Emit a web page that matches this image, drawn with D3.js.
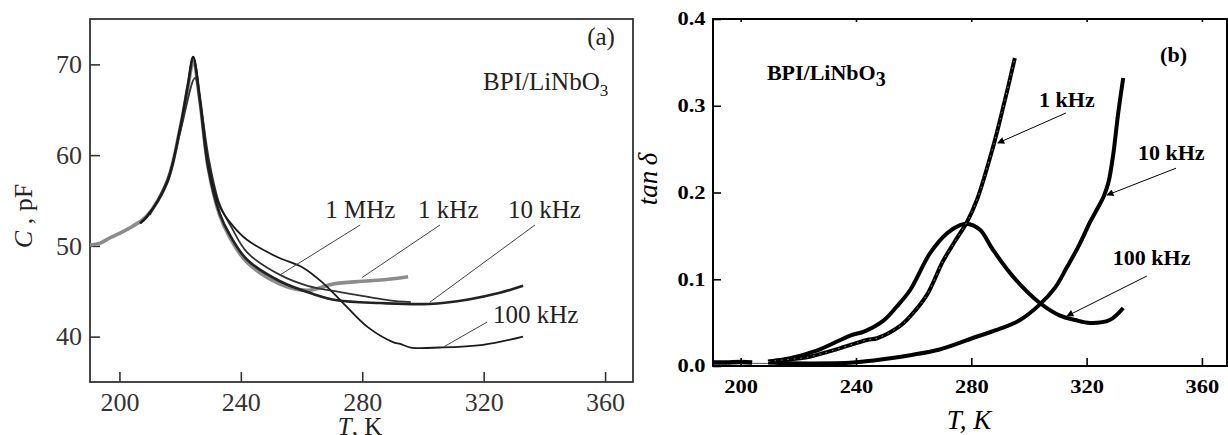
<!DOCTYPE html>
<html>
<head>
<meta charset="utf-8">
<script src="https://cdn.jsdelivr.net/npm/d3@7/dist/d3.min.js"></script>
<style>
  body { margin: 0; background: #fff; }
  svg { display: block; }
  .serif { font-family: "Liberation Serif", "DejaVu Serif", serif; }
</style>
</head>
<body>
<svg id="chart" width="1228" height="435"></svg>
<script>
// ---- data ----
// panel (a): capacitance C (pF) vs T (K)
var c1kHz = [[190.3,50.1],[193.6,50.3],[197,50.9],[201.3,51.6],[204.5,52.2],[209,53.3],[215.6,57],[219.9,62.8],[222.6,67.6],[224.3,70.3],
  [226.5,66],[229.3,58.5],[233,53.4],[236.4,50.9],[242,48.2],[252.9,45.8],[262,45.1],[270.4,45.8],[280,46.1],[288,46.3],[295.1,46.6]];
var c1MHz = [[210,53.4],[216,57.5],[220,62.5],[224.9,68.5],[227,65],[229.5,59.5],[233,54.6],[237,52],[242,49.3],[252.9,46.8],
  [262,45.6],[272.7,44.9],[281.5,44.4],[289,44],[296,43.8]];
var c10kHz = [[206.8,52.5],[209,53.2],[215.6,56.9],[219.9,62.8],[222.6,67.8],[224.3,70.8],[226.5,66],[229.3,58.5],[233.1,53.5],[236.4,51.2],
  [242,48.5],[252.9,46.1],[263.8,44.7],[271.7,44.0],[285.9,43.7],[302,43.6],[315,44.1],[325,44.8],[333,45.6]];
var c100kHz = [[206.8,52.5],[209,53.2],[215.6,56.9],[219.9,62.8],[222.6,67.8],[224.3,70.8],[226.5,66.4],[229.3,59.1],[233.1,54.3],[237.4,52.2],
  [241.9,50.7],[251.8,48.8],[260.5,47.6],[267.1,45.9],[273.7,43.7],[281.6,41.1],[290.1,39.4],[292.5,39.2],[296,38.8],[305.6,38.8],
  [319.8,39.1],[333,40.0]];

// panel (b): tan delta vs T (K)
var tBase = [[190.4,0.004],[195,0.004],[200,0.0045],[204,0.004]];
var t1kHz = [[209.5,0.005],[214.7,0.007],[223,0.010],[232,0.018],[243.8,0.030],[247.3,0.032],[255.2,0.046],[259,0.058],[264.6,0.082],
  [270.2,0.121],[274,0.142],[278.5,0.166],[282,0.192],[287.5,0.252],[290,0.284],[292.5,0.318],[295.1,0.355]];
var t10kHz = [[209.5,0.004],[224,0.003],[239,0.004],[250,0.008],[258.8,0.0125],[269,0.019],[282,0.034],[290,0.043],[296.9,0.053],
  [303.8,0.071],[309,0.09],[313.2,0.114],[317.5,0.14],[321.2,0.166],[324,0.183],[326,0.196],[327.6,0.212],[329.2,0.243],
  [330.9,0.29],[332.7,0.332]];
var t100kHz = [[209.5,0.005],[217.2,0.009],[226.6,0.018],[238,0.035],[243,0.040],[249.4,0.052],[254,0.068],[258.8,0.0876],[265.7,0.130],
  [271.6,0.153],[276.1,0.1625],[278.5,0.164],[283,0.157],[287.5,0.134],[294.5,0.103],[303.8,0.0726],[310.8,0.058],[316,0.053],
  [321.2,0.0496],[328,0.053],[332.7,0.0669]];

var tempTicks = [200, 240, 280, 320, 360];
var capTicks = [40, 50, 60, 70];
var tanTicks = [0.0, 0.1, 0.2, 0.3, 0.4];

// labels, placed in data units
var leftLabels = [
  { text: "1 MHz", at: [267.8, 53.1], from: [279.3, 52.3], to: [252.9, 46.8] },
  { text: "1 kHz", at: [298.4, 53.1], from: [305.6, 52.3], to: [279.9, 46.5] },
  { text: "10 kHz", at: [328, 53.1], from: [336.9, 52.3], to: [302.3, 43.8] },
  { text: "100 kHz", at: [323.1, 41.5], from: [321.1, 41.6], to: [307, 38.9] }
];
var rightLabels = [
  { text: "1 kHz", at: [303.5, 0.2986], from: [312.8, 0.2916], to: [289.2, 0.257] },
  { text: "10 kHz", at: [337.8, 0.2375], from: [351, 0.228], to: [327.1, 0.197] },
  { text: "100 kHz", at: [329.1, 0.1164], from: [340.9, 0.1037], to: [313.2, 0.0576] }
];

var svg = d3.select("#chart");

// ================= panel (a) =================
var ax = d3.scaleLinear().domain([190.3, 369.2]).range([90, 633]);
var ay = d3.scaleLinear().domain([35, 75]).range([382, 19]);
var a = svg.append("g").attr("class", "serif");

a.append("rect")
  .attr("x", ax.range()[0]).attr("y", ay.range()[1])
  .attr("width", ax.range()[1] - ax.range()[0])
  .attr("height", ay.range()[0] - ay.range()[1])
  .attr("fill", "none").attr("stroke", "#333").attr("stroke-width", 1.8);

var axB = a.append("g")
  .attr("transform", "translate(0," + ay.range()[0] + ")")
  .call(d3.axisBottom(ax).tickValues(tempTicks).tickSize(-10).tickPadding(11));
var axL = a.append("g")
  .attr("transform", "translate(" + ax.range()[0] + ",0)")
  .call(d3.axisLeft(ay).tickValues(capTicks).tickSize(-10).tickPadding(8));
[axB, axL].forEach(function (g) {
  g.select(".domain").remove();
  g.selectAll("line").attr("stroke", "#333").attr("stroke-width", 1.6);
  g.selectAll("text").attr("fill", "#333").style("font-size", "26px")
    .style("font-family", "Liberation Serif, serif");
});

var aline = d3.line()
  .x(function (d) { return ax(d[0]); })
  .y(function (d) { return ay(d[1]); })
  .curve(d3.curveCatmullRom);

a.append("path").datum(c1kHz).attr("d", aline)
  .attr("fill", "none").attr("stroke", "#8c8c8c").attr("stroke-width", 3.6);
a.append("path").datum(c10kHz).attr("d", aline)
  .attr("fill", "none").attr("stroke", "#222").attr("stroke-width", 2.6);
a.append("path").datum(c1MHz).attr("d", aline)
  .attr("fill", "none").attr("stroke", "#333").attr("stroke-width", 1.8);
a.append("path").datum(c100kHz).attr("d", aline)
  .attr("fill", "none").attr("stroke", "#1a1a1a").attr("stroke-width", 1.8);

leftLabels.forEach(function (l) {
  a.append("line")
    .attr("x1", ax(l.from[0])).attr("y1", ay(l.from[1]))
    .attr("x2", ax(l.to[0])).attr("y2", ay(l.to[1]))
    .attr("stroke", "#444").attr("stroke-width", 1);
  a.append("text")
    .attr("x", ax(l.at[0])).attr("y", ay(l.at[1]))
    .text(l.text).attr("fill", "#222").style("font-size", "25px");
});

a.append("text").attr("x", ax(354.1)).attr("y", ay(72.1))
  .text("(a)").attr("fill", "#222").style("font-size", "25px");
var bpiA = a.append("text").attr("x", ax(319.8)).attr("y", ay(67.2))
  .attr("fill", "#222").style("font-size", "25px").text("BPI/LiNbO");
bpiA.append("tspan").attr("dy", 6).style("font-size", "17px").text("3");

// axis titles
var cl = a.append("text")
  .attr("transform", "translate(32,216) rotate(-90)")
  .attr("text-anchor", "middle").attr("fill", "#222").style("font-size", "26px");
cl.append("tspan").style("font-style", "italic").text("C");
cl.append("tspan").text(" , pF");
var tl = a.append("text")
  .attr("x", 360).attr("y", 435)
  .attr("text-anchor", "middle").attr("fill", "#222").style("font-size", "25px");
tl.append("tspan").style("font-style", "italic").text("T");
tl.append("tspan").text(", K");

// ================= panel (b) =================
var bx = d3.scaleLinear().domain([190.4, 368.7]).range([713, 1227]);
var by = d3.scaleLinear().domain([0, 0.4]).range([366, 19]);
var b = svg.append("g").attr("class", "serif");

b.append("rect")
  .attr("x", bx.range()[0]).attr("y", by.range()[1])
  .attr("width", bx.range()[1] - bx.range()[0])
  .attr("height", by.range()[0] - by.range()[1])
  .attr("fill", "none").attr("stroke", "#000").attr("stroke-width", 2);

var bxB = b.append("g")
  .attr("transform", "translate(0," + by.range()[0] + ")")
  .call(d3.axisBottom(bx).tickValues(tempTicks).tickSize(-8).tickPadding(14));
var bxT = b.append("g")
  .attr("transform", "translate(0," + by.range()[1] + ")")
  .call(d3.axisTop(bx).tickValues(tempTicks).tickSize(-3).tickFormat(""));
var byL = b.append("g")
  .attr("transform", "translate(" + bx.range()[0] + ",0)")
  .call(d3.axisLeft(by).tickValues(tanTicks).tickSize(-8).tickPadding(6).tickFormat(d3.format(".1f")));
[bxB, bxT, byL].forEach(function (g) {
  g.select(".domain").remove();
  g.selectAll("line").attr("stroke", "#000").attr("stroke-width", 1.6);
  g.selectAll("text").attr("fill", "#000").style("font-size", "18px")
    .style("font-weight", "bold").style("font-family", "Liberation Serif, serif")
    .attr("transform", "scale(1.25,1)");
});

var bline = d3.line()
  .x(function (d) { return bx(d[0]); })
  .y(function (d) { return by(d[1]); })
  .curve(d3.curveCatmullRom);

// thin trace across the gap near zero
b.append("line")
  .attr("x1", bx(204)).attr("y1", by(0.003)).attr("x2", bx(209.5)).attr("y2", by(0.003))
  .attr("stroke", "#555").attr("stroke-width", 1);
b.append("path").datum(tBase).attr("d", bline)
  .attr("fill", "none").attr("stroke", "#000").attr("stroke-width", 4.5);
b.append("path").datum(t10kHz).attr("d", bline)
  .attr("fill", "none").attr("stroke", "#000").attr("stroke-width", 4);
b.append("path").datum(t100kHz).attr("d", bline)
  .attr("fill", "none").attr("stroke", "#000").attr("stroke-width", 4);
b.append("path").datum(t1kHz).attr("d", bline)
  .attr("fill", "none").attr("stroke", "#000").attr("stroke-width", 4);
b.append("path").datum(t1kHz).attr("d", bline)
  .attr("fill", "none").attr("stroke", "#fff").attr("stroke-width", 0.8)
  .attr("stroke-dasharray", "1.5 5").attr("opacity", 0.7);

svg.append("defs").append("marker")
  .attr("id", "arrow").attr("viewBox", "0 0 10 10")
  .attr("refX", 9).attr("refY", 5)
  .attr("markerWidth", 9).attr("markerHeight", 7)
  .attr("markerUnits", "userSpaceOnUse")
  .attr("orient", "auto")
  .append("path").attr("d", "M0,0L10,5L0,10Z").attr("fill", "#000");

rightLabels.forEach(function (l) {
  b.append("line")
    .attr("x1", bx(l.from[0])).attr("y1", by(l.from[1]))
    .attr("x2", bx(l.to[0])).attr("y2", by(l.to[1]))
    .attr("stroke", "#000").attr("stroke-width", 1)
    .attr("marker-end", "url(#arrow)");
  b.append("text")
    .attr("x", bx(l.at[0])).attr("y", by(l.at[1]))
    .text(l.text).attr("fill", "#000").style("font-size", "22px").style("font-weight", "bold");
});

b.append("text").attr("x", bx(345.5)).attr("y", by(0.350))
  .text("(b)").attr("fill", "#000").style("font-size", "22px").style("font-weight", "bold");
var bpiB = b.append("text").attr("x", bx(209.1)).attr("y", by(0.330))
  .attr("fill", "#000").style("font-size", "22px").style("font-weight", "bold").text("BPI/LiNbO");
bpiB.append("tspan").attr("dy", 6).style("font-size", "20px").text("3");

b.append("text")
  .attr("transform", "translate(657,179) rotate(-90)")
  .attr("text-anchor", "middle").attr("fill", "#000")
  .style("font-size", "27px").style("font-style", "italic").text("tan\u2009\u03b4");
b.append("text")
  .attr("x", 969).attr("y", 429)
  .attr("text-anchor", "middle").attr("fill", "#000")
  .style("font-size", "27px").style("font-style", "italic").text("T, K");
</script>
</body>
</html>
